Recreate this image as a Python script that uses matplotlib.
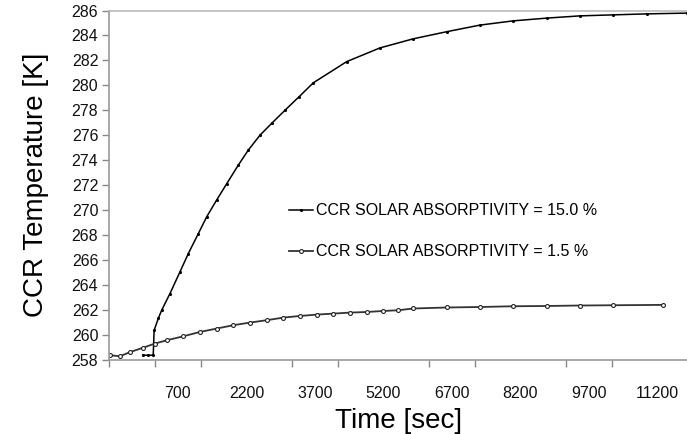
import matplotlib
matplotlib.use("Agg")
import matplotlib.pyplot as plt
from matplotlib.ticker import FixedLocator

plt.rcParams['font.family'] = ['Liberation Sans', 'DejaVu Sans']

# time [sec] and CCR temperature [K]
t_15 = [-70, 45, 160, 180, 271, 345, 527, 746, 928, 1147, 1330, 1549, 1768,
        2023, 2241, 2498, 2754, 3045, 3358, 3665, 4396, 5125, 5854, 6586,
        7315, 8044, 8775, 9506, 10234, 10965, 11840]
temp_15 = [258.35, 258.35, 258.35, 260.35, 261.3, 261.96, 263.3, 265.04, 266.5,
           268.1, 269.45, 270.8, 272.1, 273.6, 274.8, 276.0, 276.95, 278.0,
           279.1, 280.2, 281.9, 283.0, 283.73, 284.3, 284.83, 285.17, 285.39,
           285.57, 285.65, 285.73, 285.79]

t_1_5 = [-786, -568, -349, -58, 199, 455, 818, 1184, 1549, 1913, 2279, 2644,
         3008, 3373, 3739, 4103, 4468, 4834, 5197, 5526, 5854, 6586, 7315,
         8044, 8775, 9506, 10234, 11328]
temp_1_5 = [258.35, 258.27, 258.6, 258.96, 259.29, 259.55, 259.87, 260.22,
            260.49, 260.76, 260.97, 261.16, 261.37, 261.5, 261.61, 261.69,
            261.77, 261.82, 261.9, 261.96, 262.1, 262.18, 262.22, 262.28,
            262.3, 262.34, 262.36, 262.39]

x_labels = [700, 2200, 3700, 5200, 6700, 8200, 9700, 11200]
x_marks = [-800 + 1000 * k for k in range(13)]
y_ticks = list(range(258, 287, 2))

fig = plt.figure(figsize=(6.87, 4.34), dpi=100)
ax = fig.add_axes([0.1592, 0.1714, 0.8408, 0.8044])

ax.plot(t_15, temp_15, color='black', lw=1.1, marker='.', ms=2.5,
        label='CCR SOLAR ABSORPTIVITY = 15.0 %')
ax.plot(t_1_5, temp_1_5, color='#333333', lw=1.3, marker='o', ms=2.8,
        mfc='white', mec='#222222', mew=0.8,
        label='CCR SOLAR ABSORPTIVITY = 1.5 %')

ax.set_xlim(-800, 11847)
ax.set_ylim(258, 286)

ax.set_yticks(y_ticks)
ax.set_xticks(x_labels)
ax.xaxis.set_minor_locator(FixedLocator(x_marks))
ax.tick_params(axis='x', which='major', length=0, pad=19, labelsize=11.5,
               labelcolor='#111111')
ax.tick_params(axis='x', which='minor', length=5, color='#888888', width=1)
ax.tick_params(axis='y', length=5, color='#888888', width=1, labelsize=11.5,
               pad=3, labelcolor='#111111')

for side in ['left', 'bottom', 'top']:
    ax.spines[side].set_color('#999999')
    ax.spines[side].set_linewidth(1.2)
ax.spines['right'].set_visible(False)
ax.spines['top'].set_color('#bbbbbb')

ax.set_xlabel('Time [sec]', fontsize=20, labelpad=5)
ax.set_ylabel('CCR Temperature [K]', fontsize=20, labelpad=16)

ax.legend(loc='upper left', bbox_to_anchor=(0.4207, 0.532),
          bbox_transform=fig.transFigure, frameon=False, fontsize=11.5,
          handlelength=1.5, handletextpad=0.2, labelspacing=1.65,
          borderpad=0, borderaxespad=0)

fig.savefig('out.png', dpi=100)
